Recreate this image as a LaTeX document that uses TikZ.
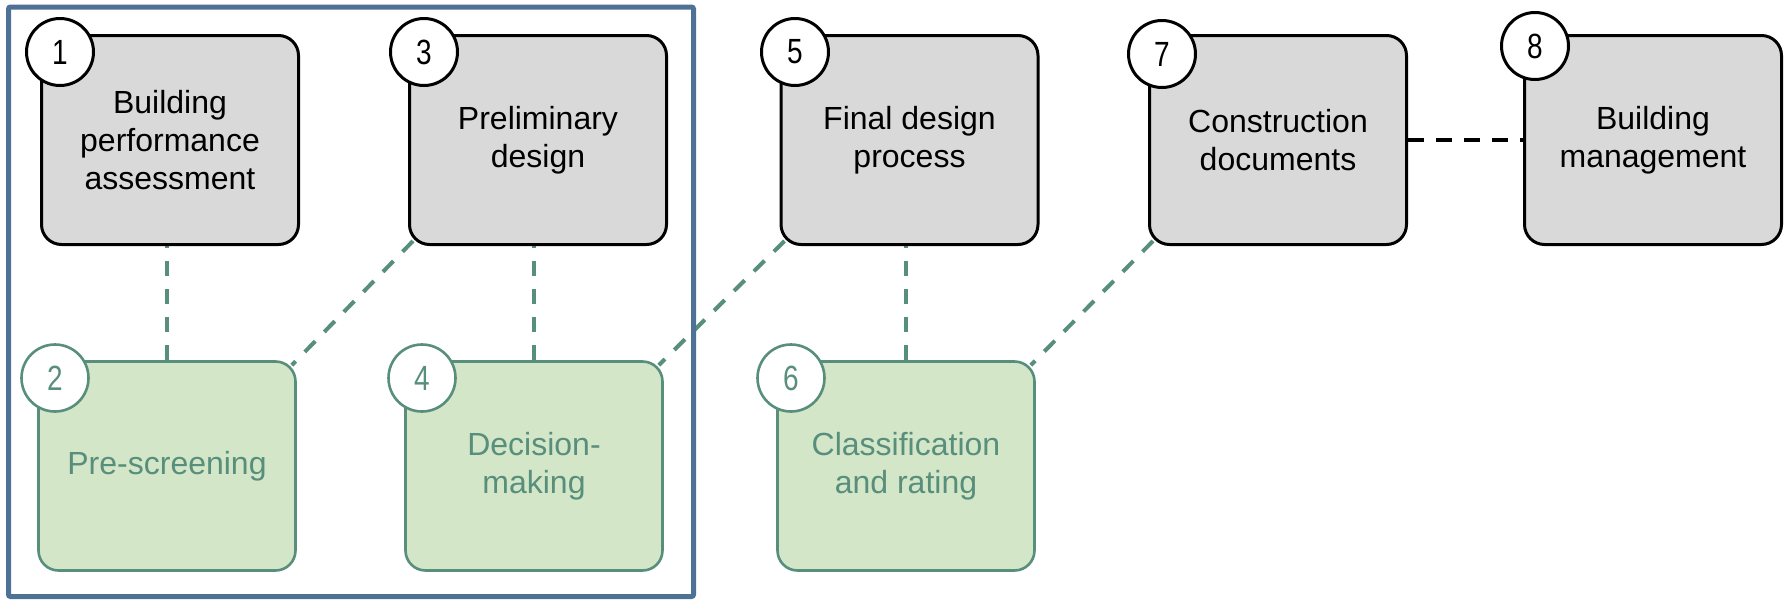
\documentclass[tikz,border=0pt]{standalone}
\usepackage{fontspec}
\setmainfont{Liberation Sans}
\newfontfamily\numfont[FakeStretch=0.8]{Liberation Sans}
\usetikzlibrary{backgrounds,calc}
\definecolor{boxgrey}{HTML}{D9D9D9}
\definecolor{leaf}{HTML}{D3E6C8}
\definecolor{tealink}{HTML}{588E7C}
\definecolor{frameblue}{HTML}{4E7196}

\begin{document}
\begin{tikzpicture}[x=0.5pt,y=-0.5pt,
  stage/.style={draw=black, line width=1.5pt, fill=boxgrey, rounded corners=10pt,
    minimum width=128.5pt, minimum height=104.5pt, inner sep=0pt, align=center,
    font=\fontsize{16}{19}\selectfont},
  check/.style={stage, draw=tealink, fill=leaf, text=tealink, line width=1.3pt},
  num/.style={circle, draw=black, line width=1.5pt, fill=white, minimum size=33.5pt,
    inner sep=0pt, font=\numfont\fontsize{17.5}{17.5}\selectfont},
  numg/.style={num, draw=tealink, text=tealink, line width=1.3pt},
  link/.style={draw=tealink, line width=2pt, line cap=butt, dash pattern=on 7.5pt off 6.5pt},
  handoff/.style={draw=black, line width=2pt, dash pattern=on 8pt off 6pt}]

\useasboundingbox (0,0) rectangle (1790,600);

% group frame around the first four steps
\draw[frameblue, line width=2.5pt, rounded corners=1pt] (8.5,7) rectangle (693.5,596.5);

% process stages
\node[stage] (b1) at (170,140) {Building\\performance\\assessment};
\node[stage] (b3) at (538,140) {Preliminary\\design};
\node[stage] (b5) at (909.5,140) {Final design\\process};
\node[stage] (b7) at (1278,140) {Construction\\documents};
\node[stage] (b8) at (1653,140) {Building\\management};

% assessment steps
\node[check] (b2) at (167,466) {Pre-screening};
\node[check] (b4) at (534,466) {Decision-\\making};
\node[check] (b6) at (906,466) {Classification\\and rating};

% step numbers
\node[num]  (n1) at (60,52)   {1};
\node[num]  (n3) at (424,52)  {3};
\node[num]  (n5) at (795,52)  {5};
\node[num]  (n7) at (1162,54) {7};
\node[num]  (n8) at (1535,46) {8};
\node[numg] (n2) at (55,378)  {2};
\node[numg] (n4) at (422,378) {4};
\node[numg] (n6) at (791,378) {6};

% connectors behind the boxes; diagonals meet the rounded corners
\begin{pgfonlayer}{background}
  \draw[link] (b2.north) -- (b2.north |- b1.south);
  \draw[link] (b4.north) -- (b4.north |- b3.south);
  \draw[link] (b6.north) -- (b6.north |- b5.south);
  \draw[link] ($(b3.south west)+(5,-5)$) -- ($(b2.north east)+(-5,5)$);
  \draw[link] ($(b5.south west)+(5,-5)$) -- ($(b4.north east)+(-5,5)$);
  \draw[link] ($(b7.south west)+(5,-5)$) -- ($(b6.north east)+(-5,5)$);
  \draw[handoff] (b7.east) -- (b8.west);
\end{pgfonlayer}
\end{tikzpicture}
\end{document}
